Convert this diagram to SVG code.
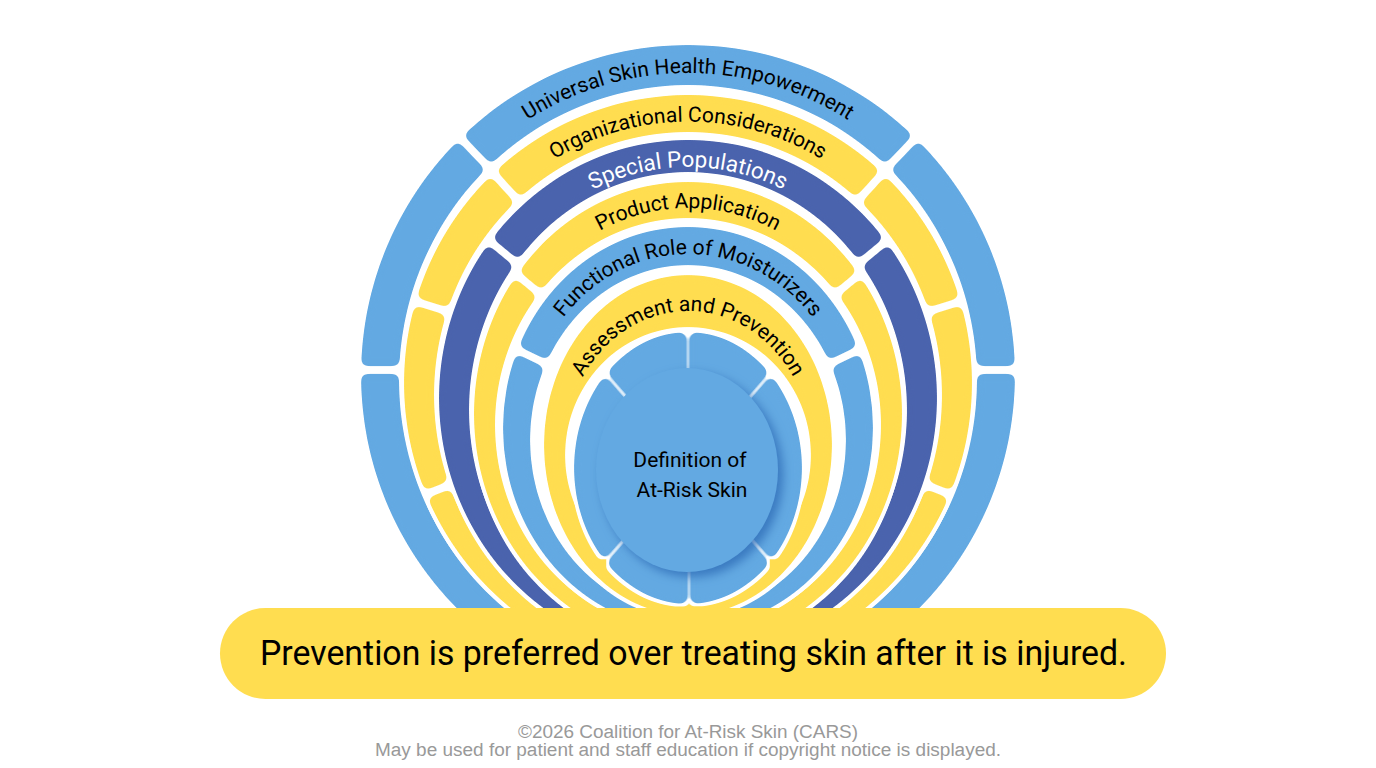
<svg xmlns="http://www.w3.org/2000/svg" width="1376" height="768" viewBox="0 0 1376 768">
<defs>
<style>
.lb{fill:#63A9E2}.yl{fill:#FFDD50}.db{fill:#4A63AD}
.arc{font-family:Roboto,"Liberation Sans",sans-serif;font-size:21px;fill:#000}
.gap{stroke:#000;stroke-width:8}
</style>
<filter id="rnd" x="-10%" y="-10%" width="120%" height="120%" color-interpolation-filters="sRGB">
<feGaussianBlur in="SourceGraphic" stdDeviation="3.5" result="b"/>
<feComponentTransfer in="b" result="r"><feFuncA type="linear" slope="10" intercept="-4.5"/></feComponentTransfer>
<feMorphology in="r" operator="dilate" radius="3" result="d"/>
<feFlood flood-color="#ffffff"/>
<feComposite in2="d" operator="in" result="halo"/>
<feMerge><feMergeNode in="halo"/><feMergeNode in="r"/></feMerge>
</filter>
<filter id="sh" x="-20%" y="-20%" width="140%" height="140%" color-interpolation-filters="sRGB">
<feDropShadow dx="5" dy="5" stdDeviation="5" flood-color="#2C6AB4" flood-opacity="0.75"/>
</filter>
<clipPath id="top"><rect x="0" y="0" width="1376" height="640"/></clipPath>
<mask id="m1" maskUnits="userSpaceOnUse" x="0" y="0" width="1376" height="768">
<rect width="1376" height="768" fill="#fff"/>
<g class="gap"><line x1="446" y1="123" x2="494" y2="173"/><line x1="930" y1="123" x2="882" y2="173"/><line x1="340" y1="370" x2="420" y2="370"/><line x1="956" y1="370" x2="1036" y2="370"/></g>
</mask>
<mask id="m2" maskUnits="userSpaceOnUse" x="0" y="0" width="1376" height="768">
<rect width="1376" height="768" fill="#fff"/>
<g class="gap"><line x1="493" y1="173" x2="533" y2="217"/><line x1="401" y1="297" x2="459" y2="315"/><line x1="409" y1="501" x2="465" y2="479"/><line x1="883" y1="173" x2="843" y2="217"/><line x1="975" y1="297" x2="917" y2="315"/><line x1="967" y1="501" x2="911" y2="479"/></g>
</mask>
<mask id="m3" maskUnits="userSpaceOnUse" x="0" y="0" width="1376" height="768">
<rect width="1376" height="768" fill="#fff"/>
<g class="gap"><line x1="480" y1="233" x2="526" y2="271"/><line x1="896" y1="233" x2="850" y2="271"/></g>
</mask>
<mask id="m4" maskUnits="userSpaceOnUse" x="0" y="0" width="1376" height="768">
<rect width="1376" height="768" fill="#fff"/>
<g class="gap"><line x1="504" y1="264" x2="550" y2="302"/><line x1="872" y1="264" x2="826" y2="302"/></g>
</mask>
<mask id="m5" maskUnits="userSpaceOnUse" x="0" y="0" width="1376" height="768">
<rect width="1376" height="768" fill="#fff"/>
<g class="gap"><line x1="505" y1="344" x2="559" y2="370"/><line x1="871" y1="344" x2="817" y2="370"/></g>
</mask>
<mask id="m7" maskUnits="userSpaceOnUse" x="0" y="0" width="1376" height="768">
<rect width="1376" height="768" fill="#fff"/>
<g stroke="#000" stroke-width="5"><line x1="688" y1="320" x2="688" y2="400"/><line x1="689" y1="540" x2="689" y2="620"/><line x1="599" y1="366" x2="632" y2="404"/><line x1="777" y1="366" x2="744" y2="404"/><line x1="604" y1="563" x2="637" y2="525"/><line x1="772" y1="563" x2="739" y2="525"/></g>
</mask>
<path id="t1" d="M388,377.5 A300,304.5 0 0 1 988,377.5"/>
<path id="t2" d="M427,389 A261,267.5 0 0 1 949,389"/>
<path id="t3" d="M465,404 A223,237 0 0 1 911,404"/>
<path id="t4" d="M492.5,419.5 A195.5,211.5 0 0 1 883.5,419.5"/>
<path id="t5" d="M524.5,434 A163.5,180 0 0 1 851.5,434"/>
<path id="t6" d="M564.5,450 A123.5,139 0 0 1 811.5,450"/>
</defs>
<rect width="1376" height="768" fill="#fff"/>
<g clip-path="url(#top)">
<g id="ring-universal" filter="url(#rnd)"><path class="lb" fill-rule="evenodd" mask="url(#m1)" d="M361,375 A327,330 0 1 0 1015,375 A327,330 0 1 0 361,375Z M399,380 A289,295 0 1 0 977,380 A289,295 0 1 0 399,380Z"/></g>
<g id="ring-organizational" filter="url(#rnd)"><path class="yl" fill-rule="evenodd" mask="url(#m2)" d="M404,383 A284,288 0 1 0 972,383 A284,288 0 1 0 404,383Z M434,395 A254,263 0 1 0 942,395 A254,263 0 1 0 434,395Z"/></g>
<g id="ring-special" filter="url(#rnd)"><path class="db" fill-rule="evenodd" mask="url(#m3)" d="M439,398 A249,258 0 1 0 937,398 A249,258 0 1 0 439,398Z M469,410 A219,238 0 1 0 907,410 A219,238 0 1 0 469,410Z"/></g>
<g id="ring-product" filter="url(#rnd)"><path class="yl" fill-rule="evenodd" mask="url(#m4)" d="M474,414 A214,232 0 1 0 902,414 A214,232 0 1 0 474,414Z M495,425 A193,207 0 1 0 881,425 A193,207 0 1 0 495,425Z"/></g>
<g id="ring-functional" filter="url(#rnd)"><path class="lb" fill-rule="evenodd" mask="url(#m5)" d="M503,428 A185,201 0 1 0 873,428 A185,201 0 1 0 503,428Z M530,440 A158,175 0 1 0 846,440 A158,175 0 1 0 530,440Z"/></g>
<g id="ring-assessment" filter="url(#rnd)"><path class="yl" fill-rule="evenodd" d="M544,445 A144,170 0 1 0 832,445 A144,170 0 1 0 544,445Z M565,455 A123,128 0 1 0 811,455 A123,128 0 1 0 565,455Z"/></g>
<g id="core-segments" filter="url(#rnd)"><path class="lb" fill-rule="evenodd" mask="url(#m7)" d="M574,468 A114,136 0 1 0 802,468 A114,136 0 1 0 574,468Z M618,472 A70,90 0 1 0 758,472 A70,90 0 1 0 618,472Z"/></g>
</g>
<g id="labels" class="arc">
<text><textPath href="#t1" startOffset="50%" text-anchor="middle">Universal Skin Health Empowerment</textPath></text>
<text><textPath href="#t2" startOffset="50%" text-anchor="middle">Organizational Considerations</textPath></text>
<text style="fill:#fff;font-size:22.5px"><textPath href="#t3" startOffset="50%" text-anchor="middle">Special Populations</textPath></text>
<text><textPath href="#t4" startOffset="50%" text-anchor="middle">Product Application</textPath></text>
<text><textPath href="#t5" startOffset="50%" text-anchor="middle">Functional Role of Moisturizers</textPath></text>
<text><textPath href="#t6" startOffset="50%" text-anchor="middle">Assessment and Prevention</textPath></text>
</g>
<g id="core">
<ellipse class="lb" cx="687" cy="470" rx="91" ry="102" filter="url(#sh)"/>
<text font-family="Roboto,'Liberation Sans',sans-serif" font-size="21" fill="#000" text-anchor="middle"><tspan x="690" y="467">Definition of</tspan><tspan x="692" y="497">At-Risk Skin</tspan></text>
</g>
<g id="banner">
<rect x="220" y="608" width="946" height="91" rx="45.5" fill="#FFDD50"/>
<text x="693.5" y="665" font-family="Roboto,'Liberation Sans',sans-serif" font-size="35" fill="#000" text-anchor="middle" textLength="867" lengthAdjust="spacingAndGlyphs">Prevention is preferred over treating skin after it is injured.</text>
</g>
<g id="copyright" font-family="'Liberation Sans',Arial,sans-serif" font-size="18" fill="#999999" text-anchor="middle">
<text x="688" y="738" textLength="340" lengthAdjust="spacingAndGlyphs">©2026 Coalition for At-Risk Skin (CARS)</text>
<text x="688" y="756" textLength="626" lengthAdjust="spacingAndGlyphs">May be used for patient and staff education if copyright notice is displayed.</text>
</g>
</svg>
